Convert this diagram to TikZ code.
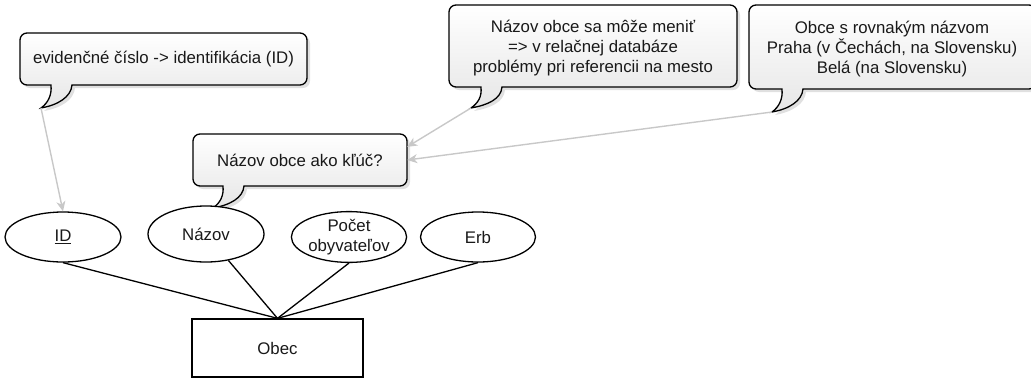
\documentclass[tikz,border=0pt]{standalone}
\usepackage{fontspec}
\setmainfont{Liberation Sans}
\usetikzlibrary{shapes.geometric,arrows.meta}
\definecolor{calloutbot}{RGB}{230,230,230}
\definecolor{arrowgray}{RGB}{200,200,200}
\definecolor{txtcol}{RGB}{25,25,25}
% #1 options, #2 x1, #3 y1, #4 x2, #5 y2, #6 tip x, #7 tip y
\newcommand{\calloutshape}[7]{%
  \path[#1,rounded corners=7] (#6+10,#5) -- (#2,#5) -- (#2,#3) -- (#4,#3) -- (#4,#5)
    [sharp corners] -- (#6+31,#5)
    .. controls (#6+30,#5+12) and (#6+17,#7-3) .. (#6,#7)
    .. controls (#6+7,#7-5) and (#6+11,#5+10) .. (#6+10,#5) -- cycle;}
\newcommand{\callout}[6]{%
  \begin{scope}[shift={(3,3)}]\calloutshape{fill=black,fill opacity=0.12}{#1}{#2}{#3}{#4}{#5}{#6}\end{scope}
  \calloutshape{draw=black,line width=1.3pt,top color=white,bottom color=calloutbot}{#1}{#2}{#3}{#4}{#5}{#6}}
\tikzset{
  every node/.style={font=\fontsize{16.8}{20.2}\selectfont, text=txtcol},
  notebox/.style={inner sep=0pt, align=center},
  attr/.style={ellipse, draw=black, line width=1.3pt, fill=white, inner sep=0pt, align=center},
  entity/.style={rectangle, draw=black, line width=1.3pt, fill=white, inner sep=0pt},
  link/.style={line width=1.3pt, draw=black},
  conn/.style={line width=1.4pt, draw=arrowgray, -{Stealth[length=10pt,width=9pt,inset=3pt]}}
}
\begin{document}
\begin{tikzpicture}[x=1pt,y=-1pt]
\useasboundingbox (0,0) rectangle (1031,381);
\clip (0,0) rectangle (1031,381);

% callouts
\callout{20}{33}{307}{85}{41}{108}
\node[notebox, minimum width=287, minimum height=52] (idnote) at (163.5,59) {evidenčné číslo -> identifikácia (ID)};
\coordinate (tipA) at (41,108);

\callout{193}{134}{407}{186}{213}{208}
\node[notebox, minimum width=214, minimum height=52] (kluc) at (300,160) {Názov obce ako kľúč?};

\callout{449}{5}{737}{87}{471}{108}
\node[notebox, minimum width=288, minimum height=82] (menit) at (593,48) {Názov obce sa môže meniť\\=> v relačnej databáze\\problémy pri referencii na mesto};
\coordinate (tipC) at (471,108);

\callout{749}{5}{1036}{89}{772}{112}
\node[notebox, minimum width=287, minimum height=84] (rovnaky) at (892,49) {Obce s rovnakým názvom\\Praha (v Čechách, na Slovensku)\\Belá (na Slovensku)};
\coordinate (tipD) at (772,112);

% ER part
\node[attr, minimum width=116, minimum height=50] (id) at (63,237) {\underline{ID}};
\node[attr, minimum width=116, minimum height=56] (nazov) at (206,234) {Názov};
\node[attr, minimum width=115, minimum height=50] (pocet) at (349,237) {Počet\\obyvateľov};
\node[attr, minimum width=115, minimum height=50] (erb) at (478,237) {Erb};
\node[entity, minimum width=171, minimum height=58] (obec) at (277.5,348) {Obec};

\draw[link] (id.south) -- (obec.north);
\draw[link] (nazov) -- (obec.north);
\draw[link] (pocet.south) -- (obec.north);
\draw[link] (erb.south) -- (obec.north);

% grey arrows
\draw[conn] (tipA) -- (id.north);
\draw[conn] (tipC) -- (kluc.7.5);
\draw[conn] (tipD) -- (kluc.east);
\end{tikzpicture}
\end{document}
